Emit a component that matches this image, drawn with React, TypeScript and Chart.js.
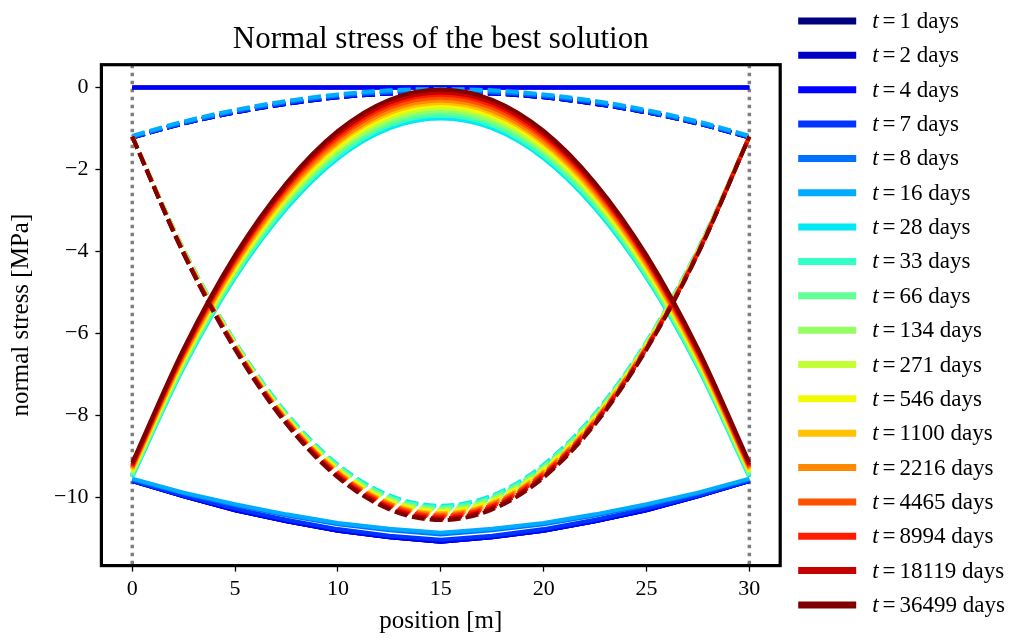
import { useEffect, useRef } from "react";
import { Chart, registerables } from "chart.js";

Chart.register(...registerables);

// Sample positions along the member [m]
const positions = [0, 2.5, 5, 7.5, 10, 12.5, 15, 17.5, 20, 22.5, 25, 27.5, 30];

// Time steps [days] and their jet colours
const times = [1, 2, 4, 7, 8, 16, 28, 33, 66, 134, 271, 546, 1100, 2216, 4465, 8994, 18119, 36499];
const colors = [
  "#000080", "#0000c4", "#0000ff", "#0034ff", "#0070ff", "#00acff",
  "#02e8f4", "#33ffc4", "#63ff94", "#94ff63", "#c4ff33", "#f4f802",
  "#ffc100", "#ff8900", "#ff5200", "#ff1a00", "#c40000", "#800000",
];

// Support positions [m]
const supports = [0, 30];

// Early stages: flat top, shallow dashed arch, sagging bottom
const flatEarly = [0, 0, 0, 0, 0, 0, 0, 0, 0, 0, 0, 0, 0];
const dashedEarly = [-1.22, -0.88, -0.61, -0.40, -0.24, -0.15, -0.12, -0.15, -0.24, -0.40, -0.61, -0.88, -1.22];
const dashed7 = [-1.21, -0.87, -0.60, -0.38, -0.22, -0.13, -0.10, -0.13, -0.22, -0.38, -0.60, -0.87, -1.21];
const dashed8 = [-1.20, -0.86, -0.58, -0.36, -0.20, -0.11, -0.08, -0.11, -0.20, -0.36, -0.58, -0.86, -1.20];
const dashed16 = [-1.18, -0.83, -0.55, -0.33, -0.17, -0.07, -0.04, -0.07, -0.17, -0.33, -0.55, -0.83, -1.18];
const solidEarly = [-9.60, -9.97, -10.31, -10.58, -10.81, -10.97, -11.08, -10.97, -10.81, -10.58, -10.31, -9.97, -9.60];
const solid7 = [-9.59, -9.95, -10.27, -10.54, -10.77, -10.93, -11.03, -10.93, -10.77, -10.54, -10.27, -9.95, -9.59];
const solid8 = [-9.56, -9.90, -10.19, -10.44, -10.65, -10.80, -10.90, -10.80, -10.65, -10.44, -10.19, -9.90, -9.56];
const solid16 = [-9.54, -9.88, -10.16, -10.41, -10.62, -10.76, -10.86, -10.76, -10.62, -10.41, -10.16, -9.88, -9.54];

// Later stages: solid arch (rising to mid-span) and dashed sag
const solid28 = [-9.50, -6.83, -4.64, -2.95, -1.73, -1.00, -0.76, -1.00, -1.73, -2.95, -4.64, -6.83, -9.50];
const solid33 = [-9.47, -6.79, -4.59, -2.89, -1.67, -0.93, -0.69, -0.93, -1.67, -2.89, -4.59, -6.79, -9.47];
const solid66 = [-9.44, -6.75, -4.54, -2.83, -1.60, -0.87, -0.62, -0.87, -1.60, -2.83, -4.54, -6.75, -9.44];
const solid134 = [-9.41, -6.71, -4.49, -2.77, -1.54, -0.81, -0.56, -0.81, -1.54, -2.77, -4.49, -6.71, -9.41];
const solid271 = [-9.38, -6.67, -4.45, -2.72, -1.49, -0.75, -0.50, -0.75, -1.49, -2.72, -4.45, -6.67, -9.38];
const solid546 = [-9.35, -6.63, -4.40, -2.67, -1.43, -0.69, -0.44, -0.69, -1.43, -2.67, -4.40, -6.63, -9.35];
const solid1100 = [-9.32, -6.59, -4.35, -2.62, -1.37, -0.63, -0.38, -0.63, -1.37, -2.62, -4.35, -6.59, -9.32];
const solid2216 = [-9.29, -6.55, -4.31, -2.56, -1.32, -0.57, -0.32, -0.57, -1.32, -2.56, -4.31, -6.55, -9.29];
const solid4465 = [-9.26, -6.51, -4.25, -2.50, -1.25, -0.50, -0.25, -0.50, -1.25, -2.50, -4.25, -6.51, -9.26];
const solid8994 = [-9.23, -6.46, -4.20, -2.44, -1.19, -0.43, -0.18, -0.43, -1.19, -2.44, -4.20, -6.46, -9.23];
const solid18119 = [-9.20, -6.43, -4.16, -2.39, -1.13, -0.37, -0.12, -0.37, -1.13, -2.39, -4.16, -6.43, -9.20];
const solid36499 = [-9.15, -6.37, -4.09, -2.33, -1.06, -0.30, -0.05, -0.30, -1.06, -2.33, -4.09, -6.37, -9.15];

const dashed28 = [-1.20, -3.95, -6.20, -7.95, -9.20, -9.95, -10.20, -9.95, -9.20, -7.95, -6.20, -3.95, -1.20];
const dashed33 = [-1.20, -3.96, -6.22, -7.97, -9.23, -9.98, -10.23, -9.98, -9.23, -7.97, -6.22, -3.96, -1.20];
const dashed66 = [-1.20, -3.97, -6.23, -8.00, -9.25, -10.01, -10.26, -10.01, -9.25, -8.00, -6.23, -3.97, -1.20];
const dashed134 = [-1.20, -3.98, -6.25, -8.02, -9.28, -10.04, -10.29, -10.04, -9.28, -8.02, -6.25, -3.98, -1.20];
const dashed271 = [-1.20, -3.99, -6.27, -8.04, -9.31, -10.07, -10.32, -10.07, -9.31, -8.04, -6.27, -3.99, -1.20];
const dashed546 = [-1.20, -4.00, -6.28, -8.06, -9.33, -10.10, -10.35, -10.10, -9.33, -8.06, -6.28, -4.00, -1.20];
const dashed1100 = [-1.20, -4.01, -6.30, -8.09, -9.36, -10.13, -10.38, -10.13, -9.36, -8.09, -6.30, -4.01, -1.20];
const dashed2216 = [-1.20, -4.02, -6.32, -8.11, -9.39, -10.15, -10.41, -10.15, -9.39, -8.11, -6.32, -4.02, -1.20];
const dashed4465 = [-1.20, -4.02, -6.33, -8.13, -9.41, -10.18, -10.44, -10.18, -9.41, -8.13, -6.33, -4.02, -1.20];
const dashed8994 = [-1.20, -4.03, -6.35, -8.15, -9.44, -10.21, -10.47, -10.21, -9.44, -8.15, -6.35, -4.03, -1.20];
const dashed18119 = [-1.20, -4.05, -6.37, -8.18, -9.48, -10.25, -10.51, -10.25, -9.48, -8.18, -6.37, -4.05, -1.20];
const dashed36499 = [-1.20, -4.06, -6.39, -8.21, -9.51, -10.29, -10.55, -10.29, -9.51, -8.21, -6.39, -4.06, -1.20];

// Curves belonging to each time step, in the same order as `times`
const flatCurves: (number[] | null)[] = [flatEarly, flatEarly, flatEarly, null, null, null, null, null, null, null, null, null, null, null, null, null, null, null];
const solidCurves = [
  solidEarly, solidEarly, solidEarly, solid7, solid8, solid16,
  solid28, solid33, solid66, solid134, solid271, solid546,
  solid1100, solid2216, solid4465, solid8994, solid18119, solid36499,
];
const dashedCurves = [
  dashedEarly, dashedEarly, dashedEarly, dashed7, dashed8, dashed16,
  dashed28, dashed33, dashed66, dashed134, dashed271, dashed546,
  dashed1100, dashed2216, dashed4465, dashed8994, dashed18119, dashed36499,
];

const SERIF = "'Liberation Serif', 'Times New Roman', serif";
const LINE_W = 4;

const toPoints = (vals: number[]) => positions.map((x, i) => ({ x, y: vals[i] }));

const minus = (v: number) => (v < 0 ? "\u2212" + Math.abs(v) : String(v));

const supportPlugin = {
  id: "supportLines",
  beforeDatasetsDraw(chart: any) {
    const { ctx, chartArea: a, scales } = chart;
    ctx.save();
    ctx.strokeStyle = "#808080";
    ctx.lineWidth = 3.5;
    ctx.setLineDash([3.6, 4.4]);
    for (const p of supports) {
      const x = scales.x.getPixelForValue(p);
      ctx.beginPath();
      ctx.moveTo(x, a.top);
      ctx.lineTo(x, a.bottom);
      ctx.stroke();
    }
    ctx.restore();
  },
};

const framePlugin = {
  id: "axesFrame",
  afterDatasetsDraw(chart: any) {
    const { ctx, chartArea: a } = chart;
    ctx.save();
    ctx.strokeStyle = "#000";
    ctx.lineWidth = 3.2;
    ctx.setLineDash([]);
    ctx.strokeRect(a.left, a.top, a.right - a.left, a.bottom - a.top);
    ctx.restore();
  },
};

const legendPlugin = {
  id: "timeLegend",
  afterDraw(chart: any) {
    const { ctx, chartArea: a } = chart;
    const x0 = a.right + 18;
    const x1 = x0 + 58;
    const tx = x1 + 16;
    const y0 = 21;
    const dy = 34.35;
    ctx.save();
    times.forEach((t, i) => {
      const y = y0 + i * dy;
      ctx.strokeStyle = colors[i];
      ctx.lineWidth = 7;
      ctx.setLineDash([]);
      ctx.beginPath();
      ctx.moveTo(x0, y);
      ctx.lineTo(x1, y);
      ctx.stroke();

      ctx.fillStyle = "#000";
      ctx.textBaseline = "middle";
      ctx.textAlign = "left";
      let x = tx;
      ctx.font = `italic 23px ${SERIF}`;
      ctx.fillText("t", x, y + 1);
      x += ctx.measureText("t").width + 4;
      ctx.font = `23px ${SERIF}`;
      ctx.fillText("=", x, y + 1);
      x += ctx.measureText("=").width + 4;
      ctx.fillText(`${t} days`, x, y + 1);
    });
    ctx.restore();
  },
};

export default function App() {
  const canvasRef = useRef<HTMLCanvasElement | null>(null);

  useEffect(() => {
    const canvas = canvasRef.current;
    if (!canvas) return;

    // Build datasets in drawing order (early times first, late times on top)
    const drawOrder: any[] = [];
    times.forEach((t, i) => {
      const flat = flatCurves[i];
      if (flat) {
        drawOrder.push({
          label: `t=${t} days (top)`,
          data: toPoints(flat),
          borderColor: colors[i],
          borderWidth: LINE_W,
          tension: 0,
        });
      }
      drawOrder.push({
        label: `t=${t} days`,
        data: toPoints(solidCurves[i]),
        borderColor: colors[i],
        borderWidth: LINE_W,
        ...(i < 6 ? { tension: 0 } : { cubicInterpolationMode: "monotone" }),
      });
      drawOrder.push({
        label: `t=${t} days (dashed)`,
        data: toPoints(dashedCurves[i]),
        borderColor: colors[i],
        borderWidth: LINE_W,
        borderDash: [13, 5],
        cubicInterpolationMode: "monotone",
      });
    });
    const datasets = drawOrder
      .map((d) => ({ ...d, pointRadius: 0, fill: false, backgroundColor: d.borderColor }))
      .reverse();

    const chart = new Chart(canvas, {
      type: "line",
      data: { datasets },
      options: {
        animation: false,
        responsive: false,
        devicePixelRatio: 1,
        layout: { padding: { left: 0, top: 0, right: 240.8, bottom: 0 } },
        plugins: {
          legend: { display: false },
          tooltip: { enabled: false },
          title: {
            display: true,
            text: "Normal stress of the best solution",
            color: "#000",
            fullSize: false,
            font: { family: SERIF, size: 31, weight: "normal" },
            padding: { top: 21.4, bottom: 6.1 },
          },
        },
        scales: {
          x: {
            type: "linear",
            min: -1.5,
            max: 31.5,
            afterFit: (s: any) => {
              s.height = 76.4;
            },
            ticks: {
              stepSize: 5,
              includeBounds: false,
              color: "#000",
              font: { family: SERIF, size: 22 },
              padding: 4,
              maxRotation: 0,
              callback: (v: any) => minus(Number(v)),
            },
            grid: {
              display: true,
              drawOnChartArea: false,
              drawTicks: true,
              tickLength: 6,
              tickColor: "#000",
              tickWidth: 1.3,
            },
            border: { display: false },
            title: {
              display: true,
              text: "position [m]",
              color: "#000",
              font: { family: SERIF, size: 25 },
              padding: { top: 0, bottom: 6 },
            },
          },
          y: {
            type: "linear",
            min: -11.66,
            max: 0.555,
            afterFit: (s: any) => {
              s.width = 101.4;
            },
            ticks: {
              stepSize: 2,
              includeBounds: false,
              color: "#000",
              font: { family: SERIF, size: 22 },
              padding: 7,
              callback: (v: any) => minus(Number(v)),
            },
            grid: {
              display: true,
              drawOnChartArea: false,
              drawTicks: true,
              tickLength: 6,
              tickColor: "#000",
              tickWidth: 1.3,
            },
            border: { display: false },
            title: {
              display: true,
              text: "normal stress [MPa]",
              color: "#000",
              font: { family: SERIF, size: 25 },
              padding: { top: 6.6, bottom: 0 },
            },
          },
        },
      },
      plugins: [supportPlugin, framePlugin, legendPlugin],
    });

    return () => chart.destroy();
  }, []);

  return (
    <div style={{ position: "fixed", left: 0, top: 0, width: 1021, height: 642, background: "#fff" }}>
      <canvas ref={canvasRef} width={1021} height={642} style={{ display: "block" }} />
    </div>
  );
}
